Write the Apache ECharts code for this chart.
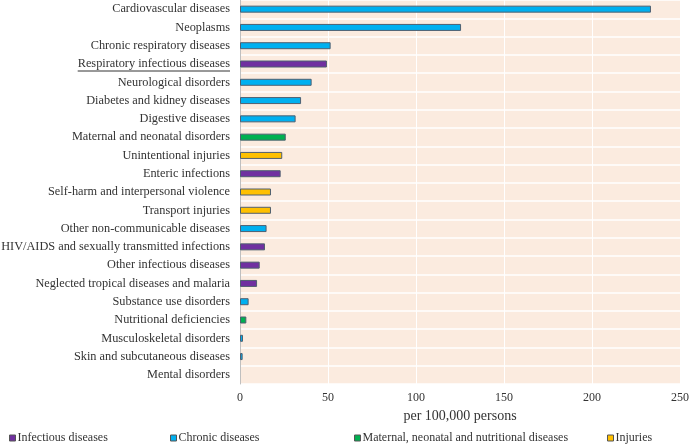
<!DOCTYPE html>
<html>
<head>
<meta charset="utf-8">
<script src="https://cdn.jsdelivr.net/npm/echarts@6/dist/echarts.min.js"></script>
<style>html,body{margin:0;padding:0;background:#fff}#c{width:690px;height:446px}</style>
</head>
<body>
<div id="c"></div>
<script>
const categories = [
  "Cardiovascular diseases","Neoplasms","Chronic respiratory diseases","Respiratory infectious diseases",
  "Neurological disorders","Diabetes and kidney diseases","Digestive diseases","Maternal and neonatal disorders",
  "Unintentional injuries","Enteric infections","Self-harm and interpersonal violence","Transport injuries",
  "Other non-communicable diseases","HIV/AIDS and sexually transmitted infections","Other infectious diseases",
  "Neglected tropical diseases and malaria","Substance use disorders","Nutritional deficiencies",
  "Musculoskeletal disorders","Skin and subcutaneous diseases","Mental disorders"
];
const values = [233.5,125.6,51.5,49.4,40.7,34.7,31.6,26.0,24.0,23.1,17.6,17.6,15.1,14.2,11.2,9.7,4.9,3.6,1.7,1.5,0];
const groups = ["C","C","C","I","C","C","C","M","J","I","J","J","C","I","I","I","C","M","C","C","C"];
const seriesNames = {I:"Infectious diseases", C:"Chronic diseases", M:"Maternal, neonatal and nutritional diseases", J:"Injuries"};
const seriesColors = {I:"#7030A0", C:"#00B0F0", M:"#00B050", J:"#FFC000"};
const xTicks = [0,50,100,150,200,250];
const underlined = "Respiratory infectious diseases";

const font = "'Liberation Serif','Times New Roman',serif";
const labelSize = 12.3;
const keys = ["I","C","M","J"];
const series = keys.map(k => ({
  name: seriesNames[k],
  type: 'bar',
  barWidth: 7,
  barGap: '-100%',
  itemStyle: {color: seriesColors[k], borderColor: '#4f5f70', borderWidth: 1},
  data: values.map((v,i) => groups[i]===k ? (v === 0 ? {value: 0, itemStyle: {borderWidth: 0}} : v) : null)
}));
const legendLefts = [9, 170, 354, 607];
const legends = keys.map((k,i) => ({
  data: [seriesNames[k]],
  left: legendLefts[i], top: 432, padding: 0,
  itemWidth: 6, itemHeight: 6, itemGap: 0,
  icon: 'rect',
  textStyle: {fontFamily: font, fontSize: 12, color: '#333', padding: [0,0,0,-3]},
  itemStyle: {borderColor: '#555', borderWidth: 1}
}));

const chart = echarts.init(document.getElementById('c'));
chart.setOption({
  animation: false,
  legend: legends,
  grid: {left: 240, right: 10, top: 0, bottom: 62, show: true, backgroundColor: '#FBEBDF', borderWidth: 0,
         containLabel: false, outerBoundsMode: 'none'},
  xAxis: {
    type: 'value', min: xTicks[0], max: xTicks[xTicks.length-1], interval: 50,
    name: 'per 100,000 persons', nameLocation: 'middle', nameGap: 20,
    nameTextStyle: {fontFamily: font, fontSize: 14, color: '#333'},
    axisLine: {show: false}, axisTick: {show: false},
    axisLabel: {fontFamily: font, fontSize: 12, color: '#333', margin: 8},
    splitLine: {show: true, lineStyle: {color: '#ffffff', width: 1}}
  },
  yAxis: {
    type: 'category', data: categories, inverse: true,
    axisLine: {show: true, lineStyle: {color: '#bfbfbf'}},
    axisTick: {show: false},
    axisLabel: {fontFamily: font, fontSize: labelSize, color: '#333', margin: 10, interval: 0},
    splitLine: {show: true, interval: 0, lineStyle: {color: '#ffffff', width: 1.5}}
  },
  series: series
});

// underline for the highlighted category label
const ctx = document.createElement('canvas').getContext('2d');
ctx.font = labelSize + "px " + font;
const w = ctx.measureText(underlined).width;
const idx = categories.indexOf(underlined);
const p = chart.convertToPixel({yAxisIndex: 0}, idx);
const x0 = chart.convertToPixel({xAxisIndex: 0}, 0);
const xr = x0 - 10;
chart.setOption({
  graphic: [{type: 'line', shape: {x1: xr - w, y1: p + 7, x2: xr, y2: p + 7}, style: {stroke: '#333', lineWidth: 1}}]
});
</script>
</body>
</html>
